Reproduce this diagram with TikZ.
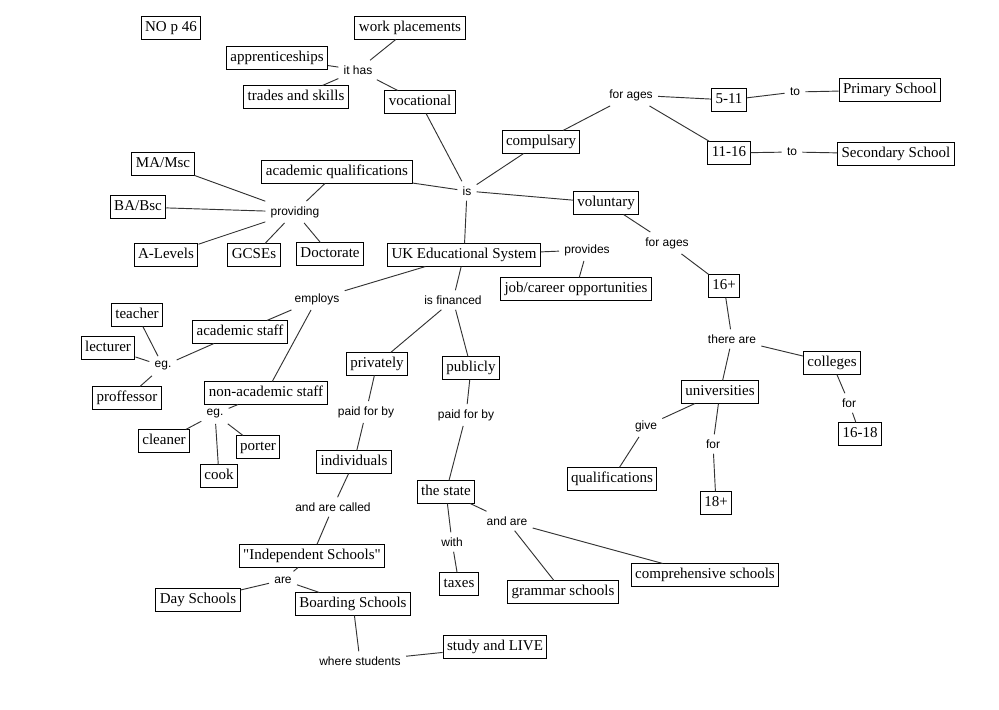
\documentclass[tikz,border=0pt]{standalone}
\usepackage{fontspec}
\setmainfont{Liberation Serif}
\setsansfont{Liberation Sans}

\begin{document}
\begin{tikzpicture}[x=0.75pt,y=-0.75pt,
  concept/.style={draw,line width=0.75pt,inner xsep=3pt,inner ysep=3pt,
    text height=8pt,text depth=2.6pt,font=\fontsize{11.25}{13}\selectfont},
  linking/.style={inner sep=2pt,outer sep=2pt,font=\sffamily\fontsize{9}{10}\selectfont},
  link/.style={line width=0.7pt,black!80}]
\useasboundingbox (0,0) rectangle (999,710);
%\draw[help lines] (0,0) grid (999,710);
\foreach \x/\y/\n/\t in {171/28/nop/NO p 46, 410/28/work/work placements, 277/58/appr/apprenticeships,
  296/97/trades/trades and skills, 420/102/voc/vocational, 337/172/acq/academic qualifications,
  163/164/ma/{MA/Msc}, 138/207/ba/{BA/Bsc}, 166/255/alev/A-Levels, 254/255/gcse/GCSEs, 330/254/doc/Doctorate,
  464/255/uk/UK Educational System, 541/142/comp/compulsary, 606/203/vol/voluntary,
  729/100/a511/5-11, 729/153/a1116/11-16, 890/90/prim/Primary School, 896/154/sec/Secondary School,
  576/289/job/{job/career opportunities}, 724/286/a16/16+,
  240/332/acst/academic staff, 137/315/teach/teacher, 108/348/lect/lecturer, 127/398/prof/proffessor,
  266/393/nacst/non-academic staff, 164/441/clean/cleaner, 258/447/port/porter, 219/476/cook/cook,
  377/364/priv/privately, 471/368/pub/publicly, 354/462/indiv/individuals, 446/492/state/the state,
  312/556/indep/\textquotedbl Independent Schools\textquotedbl, 198/600/day/Day Schools, 353/604/board/Boarding Schools,
  495/647/study/study and LIVE, 459/584/tax/taxes, 563/592/gram/grammar schools,
  705/575/compr/comprehensive schools, 832/363/coll/colleges, 860/434/a1618/16-18,
  720/392/univ/universities, 612/479/qual/qualifications, 716/503/a18/18+}
  \node[concept] (\n) at (\x,\y) {\t};
\foreach \x/\y/\n/\t in {358/70/ithas/it has, 467/191/is/is, 631/95/fa1/for ages, 795/92/to1/to,
  792/152/to2/to, 295/212/prov/providing, 667/243/fa2/for ages, 587/250/provs/provides,
  317/299/emp/employs, 453/300/fin/is financed, 163/366/eg1/eg., 215/414/eg2/eg.,
  366/412/pfb1/paid for by, 466/415/pfb2/paid for by, 732/339/there/there are, 849/403/for1/for,
  646/426/give/give, 713/444/for2/for, 333/507/called/and are called, 507/521/andare/and are,
  452/542/with/with, 283/580/are/are, 360/661/where/where students}
  \node[linking] (\n) at (\x,\y) {\t};
\foreach \s/\t in {voc/is, comp/is, acq/is, is/vol, is/uk, voc/ithas, ithas/work, ithas/appr, ithas/trades,
  comp/fa1, fa1/a511, fa1/a1116, a511/to1, to1/prim, a1116/to2, to2/sec, vol/fa2, fa2/a16,
  acq/prov, prov/ma, prov/ba, prov/alev, prov/gcse, prov/doc, uk/provs, provs/job,
  uk/emp, emp/acst, emp/nacst, acst/eg1, eg1/teach, eg1/lect, eg1/prof,
  nacst/eg2, eg2/clean, eg2/cook, eg2/port, uk/fin, fin/priv, fin/pub,
  priv/pfb1, pfb1/indiv, indiv/called, called/indep, indep/are, are/day, are/board,
  board/where, where/study, pub/pfb2, pfb2/state, state/with, with/tax, state/andare, andare/gram, andare/compr,
  a16/there, there/coll, there/univ, coll/for1, for1/a1618, univ/give, give/qual, univ/for2, for2/a18}
  \draw[link] (\s) -- (\t);
\end{tikzpicture}
\end{document}
